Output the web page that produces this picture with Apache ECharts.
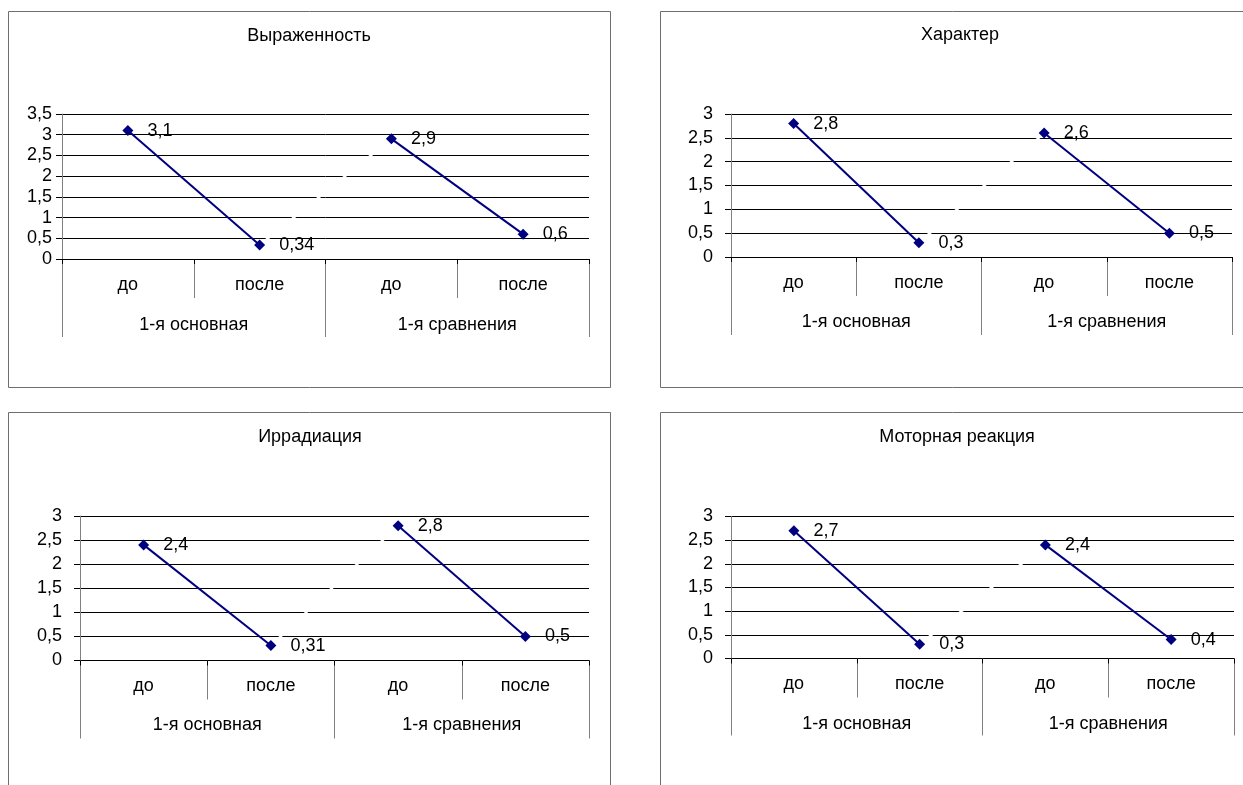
<!DOCTYPE html>
<html>
<head>
<meta charset="utf-8">
<script src="https://cdn.jsdelivr.net/npm/echarts@6/dist/echarts.min.js"></script>
<style>
  html, body { margin: 0; padding: 0; background: #fff; }
  #chart { width: 1243px; height: 785px; }
</style>
</head>
<body>
<div id="chart"></div>
<script>
// ---- data ----
const categories = ['до', 'после', 'до', 'после'];
const groups = ['1-я основная', '1-я сравнения'];
const titles = ['Выраженность', 'Характер', 'Иррадиация', 'Моторная реакция'];
const valuesVyrazhennost = [3.1, 0.34, 2.9, 0.6];
const valuesKharakter = [2.8, 0.3, 2.6, 0.5];
const valuesIrradiatsiya = [2.4, 0.31, 2.8, 0.5];
const valuesMotornaya = [2.7, 0.3, 2.4, 0.4];
const yMaxes = [3.5, 3, 3, 3];
const yInterval = 0.5;

// ---- layout ----
const panels = [
  { values: valuesVyrazhennost, grid: { left: 62, top: 114, width: 527, height: 145 }, box: [8.5, 11.5, 602, 376], title: [309, 37], yMargin: 10, catMargin: 17, groupMargin: 57, groupTick: 78 },
  { values: valuesKharakter, grid: { left: 731, top: 114, width: 501, height: 143 }, box: [660.5, 11.5, 640, 376], title: [960, 36], yMargin: 18, catMargin: 17, groupMargin: 56, groupTick: 78 },
  { values: valuesIrradiatsiya, grid: { left: 80, top: 516, width: 509, height: 144.5 }, box: [8.5, 412.5, 602, 420], title: [310, 438], yMargin: 18, catMargin: 17, groupMargin: 56, groupTick: 78 },
  { values: valuesMotornaya, grid: { left: 731, top: 516.5, width: 503, height: 142 }, box: [660.5, 412.5, 640, 420], title: [957, 438], yMargin: 18, catMargin: 17, groupMargin: 57, groupTick: 77 }
];

const FONT = 'Liberation Sans, Arial, sans-serif';
const FS = 18;
const NAVY = '#000080';
const comma = v => String(v).replace('.', ',');

const option = {
  animation: false,
  backgroundColor: '#fff',
  textStyle: { fontFamily: FONT },
  title: [], grid: [], xAxis: [], yAxis: [], series: [], graphic: []
};

panels.forEach((p, i) => {
  option.graphic.push({
    type: 'rect', silent: true, z: -10,
    shape: { x: p.box[0], y: p.box[1], width: p.box[2], height: p.box[3] },
    style: { fill: 'none', stroke: '#6e6e6e', lineWidth: 1 }
  });
  option.title.push({
    text: titles[i], left: p.title[0], top: p.title[1] - FS / 2 - 1, textAlign: 'center', padding: 0,
    textStyle: { fontFamily: FONT, fontSize: FS, fontWeight: 'normal', color: '#000' }
  });
  option.grid.push(Object.assign({ containLabel: false }, p.grid));
  const xBase = 3 * i;
  // inner categories
  option.xAxis.push({
    type: 'category', gridIndex: i, data: categories, position: 'bottom', boundaryGap: true,
    axisLine: { show: true, lineStyle: { color: '#000', width: 1 } },
    axisTick: { show: true, interval: 0, length: 39, lineStyle: { color: '#808080', width: 1 } },
    axisLabel: { show: true, interval: 0, margin: p.catMargin, fontFamily: FONT, fontSize: FS, color: '#000' },
    splitLine: { show: false }, z: 1
  });
  // groups
  option.xAxis.push({
    type: 'category', gridIndex: i, data: groups, position: 'bottom', boundaryGap: true,
    axisLine: { show: false },
    axisTick: { show: true, interval: 0, length: p.groupTick, lineStyle: { color: '#808080', width: 1 } },
    axisLabel: { show: true, interval: 0, margin: p.groupMargin, fontFamily: FONT, fontSize: FS, color: '#000' },
    splitLine: { show: false }, z: 1
  });
  // short black tick marks
  option.xAxis.push({
    type: 'category', gridIndex: i, data: categories, position: 'bottom', boundaryGap: true,
    axisLine: { show: false },
    axisTick: { show: true, interval: 0, length: 5, lineStyle: { color: '#000', width: 1 } },
    axisLabel: { show: false }, splitLine: { show: false }, z: 2
  });
  option.yAxis.push({
    type: 'value', gridIndex: i, min: 0, max: yMaxes[i], interval: yInterval,
    axisLine: { show: true, lineStyle: { color: '#808080', width: 1 } },
    axisTick: { show: true, length: 6, lineStyle: { color: '#000', width: 1 } },
    axisLabel: { margin: p.yMargin, fontFamily: FONT, fontSize: FS, color: '#000', formatter: comma },
    splitLine: { show: true, lineStyle: { color: '#000', width: 1 } }
  });
  const v = p.values;
  // white connector between groups (hides the gridlines where it crosses them)
  option.series.push({
    type: 'line', xAxisIndex: xBase, yAxisIndex: i, data: [null, v[1], v[2], null],
    symbol: 'none', silent: true, z: 3,
    lineStyle: { color: '#ffffff', width: 2.5 }
  });
  const seg = (a, b) => categories.map((_, k) => (k === a || k === b) ? v[k] : null);
  [[0, 1], [2, 3]].forEach(([a, b]) => {
    option.series.push({
      type: 'line', xAxisIndex: xBase, yAxisIndex: i, data: seg(a, b),
      symbol: 'diamond', symbolSize: 11, z: 5,
      itemStyle: { color: NAVY },
      lineStyle: { color: NAVY, width: 2 },
      label: { show: true, position: 'right', distance: 14, fontFamily: FONT, fontSize: FS, color: '#000',
        formatter: prm => comma(prm.value) }
    });
  });
});

const chart = echarts.init(document.getElementById('chart'), null, { renderer: 'canvas' });
chart.setOption(option);
</script>
</body>
</html>
